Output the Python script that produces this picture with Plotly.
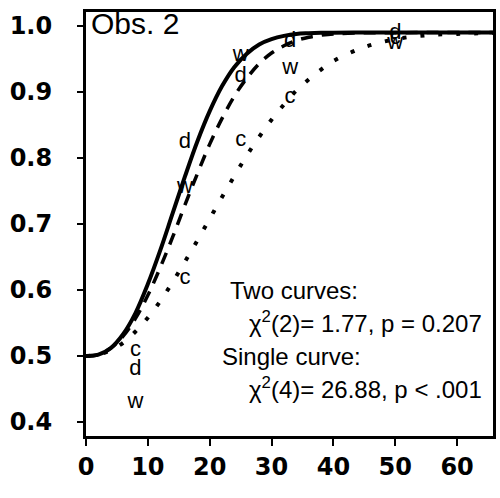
import plotly.graph_objects as go

# Fitted psychometric curves
curve_x = [0, 2, 4, 6, 8, 10, 12, 14, 16, 18, 20, 22, 24, 26, 28, 30, 32, 34, 36, 38, 40, 45, 50, 55, 60, 66]
solid_y = [0.500, 0.502, 0.512, 0.533, 0.565, 0.609, 0.660, 0.716, 0.772, 0.825, 0.871, 0.909, 0.938,
           0.958, 0.972, 0.980, 0.985, 0.988, 0.989, 0.9896, 0.9899, 0.990, 0.990, 0.990, 0.990, 0.990]
dashed_y = [0.500, 0.502, 0.512, 0.530, 0.557, 0.592, 0.634, 0.680, 0.729, 0.776, 0.821, 0.860, 0.894,
            0.921, 0.943, 0.959, 0.970, 0.978, 0.983, 0.986, 0.988, 0.9896, 0.9899, 0.990, 0.990, 0.990]
dotted_y = [0.500, 0.502, 0.509, 0.520, 0.537, 0.558, 0.583, 0.612, 0.643, 0.675, 0.708, 0.741, 0.773,
            0.804, 0.832, 0.858, 0.881, 0.902, 0.919, 0.934, 0.947, 0.968, 0.980, 0.986, 0.988, 0.9895]

# Observed data points, labelled by condition
point_x = [8, 16, 25, 33, 50]
c_y = [0.509, 0.618, 0.826, 0.891, 0.981]
d_y = [0.479, 0.824, 0.923, 0.976, 0.989]
w_y = [0.429, 0.755, 0.956, 0.936, 0.974]

x_ticks = [0, 10, 20, 30, 40, 50, 60]
y_ticks = [0.4, 0.5, 0.6, 0.7, 0.8, 0.9, 1.0]

panel_title = "Obs. 2"
stats_lines = ["Two curves:", "χ<sup>2</sup>(2)= 1.77, p = 0.207",
               "Single curve:", "χ<sup>2</sup>(4)= 26.88, p < .001"]

fig = go.Figure()
fig.add_trace(go.Scatter(x=curve_x, y=dotted_y, mode="lines", line_shape="spline",
                         line=dict(color="black", width=4, dash="4px,14px"), showlegend=False))
fig.add_trace(go.Scatter(x=curve_x, y=dashed_y, mode="lines", line_shape="spline",
                         line=dict(color="black", width=3.5, dash="12px,9px"), showlegend=False))
fig.add_trace(go.Scatter(x=curve_x, y=solid_y, mode="lines", line_shape="spline",
                         line=dict(color="black", width=4), showlegend=False))

letter_font = dict(family="Liberation Sans, Arial", size=22, color="black")
for lab, ys in (("c", c_y), ("d", d_y), ("w", w_y)):
    fig.add_trace(go.Scatter(x=point_x, y=ys, mode="text", text=[lab] * len(ys),
                             textposition="middle center", textfont=letter_font,
                             showlegend=False, hoverinfo="skip"))

ann_font = dict(family="Liberation Sans, Arial", size=24, color="black")
fig.add_annotation(x=0.008, y=0.972, xref="paper", yref="paper", text=panel_title,
                   showarrow=False, xanchor="left", yanchor="middle",
                   font=dict(family="Liberation Sans, Arial", size=30, color="black"))
fig.add_annotation(x=23.0, y=0.60, text=stats_lines[0], showarrow=False,
                   xanchor="left", yanchor="middle", font=ann_font)
fig.add_annotation(x=64.4, y=0.552, text=stats_lines[1], showarrow=False,
                   xanchor="right", yanchor="middle", font=ann_font)
fig.add_annotation(x=21.6, y=0.50, text=stats_lines[2], showarrow=False,
                   xanchor="left", yanchor="middle", font=ann_font)
fig.add_annotation(x=64.4, y=0.452, text=stats_lines[3], showarrow=False,
                   xanchor="right", yanchor="middle", font=ann_font)

tick_font = dict(family="DejaVu Sans", size=24, color="black", weight="bold")
fig.update_xaxes(range=[0, 65.8], tickvals=x_ticks, showgrid=False, zeroline=False,
                 showline=True, mirror=True, linewidth=3, linecolor="black",
                 ticks="outside", ticklen=7, tickwidth=1.5, tickcolor="black",
                 tickfont=tick_font, ticklabelstandoff=0)
fig.update_yaxes(range=[0.3788, 1.0212], tickvals=y_ticks, tickformat=".1f", showgrid=False,
                 zeroline=False, showline=True, mirror=True, linewidth=3, linecolor="black",
                 ticks="outside", ticklen=6, tickwidth=1.5, tickcolor="black",
                 tickfont=tick_font, ticklabelstandoff=20)
fig.update_layout(width=500, height=498, margin=dict(l=86, r=4, t=12, b=62),
                  plot_bgcolor="white", paper_bgcolor="white")
fig.write_html("out.html")
